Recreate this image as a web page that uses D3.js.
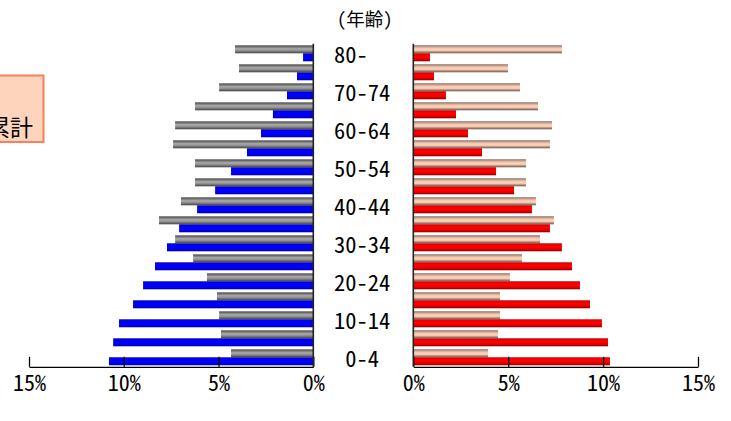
<!DOCTYPE html>
<html>
<head>
<meta charset="utf-8">
<script src="https://cdn.jsdelivr.net/npm/d3@7"></script>
<style>
  html, body { margin: 0; padding: 0; background: #fff; }
  svg { display: block; }
  .hw { font-feature-settings: "hwid" 1; }
</style>
</head>
<body>
<svg id="chart" width="731" height="421"></svg>
<script>
// Age groups, youngest first
const ages = ["0-4","5-9","10-14","15-19","20-24","25-29","30-34","35-39",
              "40-44","45-49","50-54","55-59","60-64","65-69","70-74","75-79","80-"];

// Share of population by age group (%)
const leftBack   = [4.34,4.87,4.97,5.08,5.61,6.34,7.29,8.14,6.98,6.24,6.24,7.40,7.29,6.24,4.97,3.92,4.13];
const leftFront  = [10.78,10.56,10.25,9.51,8.98,8.35,7.72,7.08,6.13,5.18,4.34,3.50,2.76,2.13,1.39,0.86,0.54];
const rightBack  = [3.94,4.46,4.57,4.57,5.09,5.73,6.68,7.41,6.46,5.94,5.94,7.20,7.31,6.57,5.62,4.99,7.83];
const rightFront = [10.36,10.26,9.94,9.31,8.78,8.36,7.83,7.20,6.25,5.31,4.36,3.62,2.88,2.25,1.72,1.09,0.88];

// Axis ticks and labels
const pctTicks = [0, 5, 10, 15];
const ageLabels = [" 0-4","10-14","20-24","30-34","40-44","50-54","60-64","70-74","80-"];
const titleText = "(年齢)";
const boxText = "累計";

const svg = d3.select("#chart");
const font = "'Noto Sans CJK JP', 'Noto Sans', sans-serif";

const plotTop = 43.8, plotBottom = 366.8;
const y = d3.scaleBand().domain(ages).range([plotBottom, plotTop]);
const bw = y.bandwidth();
const barH = bw * 0.42;
const off = (bw - 2 * barH) / 2;

const xL = d3.scaleLinear().domain([0, 15]).range([313.3, 29]);
const xR = d3.scaleLinear().domain([0, 15]).range([413.3, 698]);

// Bar shading
const defs = svg.append("defs");
function grad(id, stops) {
  const g = defs.append("linearGradient").attr("id", id)
    .attr("x1", 0).attr("y1", 0).attr("x2", 0).attr("y2", 1);
  stops.forEach(([o, c]) => g.append("stop").attr("offset", o).attr("stop-color", c));
}
grad("gGray",  [[0, "#4c4c4c"], [0.18, "#6e6e6e"], [0.4, "#a4a4a4"], [0.6, "#9c9c9c"], [0.82, "#6a6a6a"], [1, "#444"]]);
grad("gBlue",  [[0, "#00008c"], [0.15, "#0000f0"], [0.5, "#0000ff"], [0.85, "#0000e6"], [1, "#000080"]]);
grad("gPink",  [[0, "#7a5f55"], [0.2, "#d0a894"], [0.45, "#fdd3bc"], [0.65, "#f6c8ae"], [0.85, "#a08070"], [1, "#6e5a52"]]);
grad("gRed",   [[0, "#b40000"], [0.2, "#f80000"], [0.5, "#ff0000"], [0.8, "#d80000"], [1, "#7a0000"]]);

// Side box
svg.append("rect")
  .attr("x", -4).attr("y", 75.5).attr("width", 47.5).attr("height", 66.5)
  .attr("fill", "#ffd4bd").attr("stroke", "#f7805f").attr("stroke-width", 2);
svg.append("text")
  .attr("x", 33).attr("y", 135.5).attr("text-anchor", "end")
  .attr("font-family", font).attr("font-size", 23).attr("fill", "#000")
  .text(boxText);

// Title
svg.append("text")
  .attr("class", "hw")
  .attr("x", 364.7).attr("y", 25.5).attr("text-anchor", "middle")
  .attr("font-family", font).attr("font-size", 18.5).attr("fill", "#000")
  .text(titleText);

function drawBars(vals, x, yOff, fill) {
  const x0 = x(0);
  svg.append("g").selectAll("rect").data(ages).join("rect")
    .attr("x", (d, i) => Math.min(x0, x(vals[i])))
    .attr("width", (d, i) => Math.abs(x(vals[i]) - x0))
    .attr("y", d => y(d) + yOff)
    .attr("height", barH)
    .attr("fill", fill);
}
drawBars(leftBack,  xL, off, "url(#gGray)");
drawBars(leftFront, xL, off + barH, "url(#gBlue)");
drawBars(rightBack, xR, off, "url(#gPink)");
drawBars(rightFront, xR, off + barH, "url(#gRed)");

// Value axes along the bottom
function drawAxis(x) {
  const g = svg.append("g")
    .attr("transform", `translate(0,${plotBottom})`)
    .call(d3.axisBottom(x).tickValues(pctTicks).tickSizeInner(-10).tickSizeOuter(0)
      .tickPadding(9).tickFormat(d => d + "%"));
  g.select(".domain").attr("stroke", "#000").attr("stroke-width", 1.3);
  g.selectAll(".tick line").attr("stroke", "#000").attr("stroke-width", 1.3);
  g.selectAll(".tick text").attr("class", "hw")
    .attr("font-family", font).attr("font-size", 22).attr("fill", "#000");
  // vertical baseline at 0%
  svg.append("line")
    .attr("x1", x(0)).attr("x2", x(0)).attr("y1", plotTop).attr("y2", plotBottom)
    .attr("stroke", "#222").attr("stroke-width", 1.6);
}
drawAxis(xL);
drawAxis(xR);

// Age labels between the panels
svg.append("g").selectAll("text").data(ageLabels).join("text")
  .attr("class", "hw")
  .attr("x", 334)
  .attr("y", d => y(d.trim()) + bw / 2 + 10)
  .attr("font-family", font).attr("font-size", 22.5).attr("fill", "#000")
  .style("white-space", "pre")
  .text(d => d);
</script>
</body>
</html>
